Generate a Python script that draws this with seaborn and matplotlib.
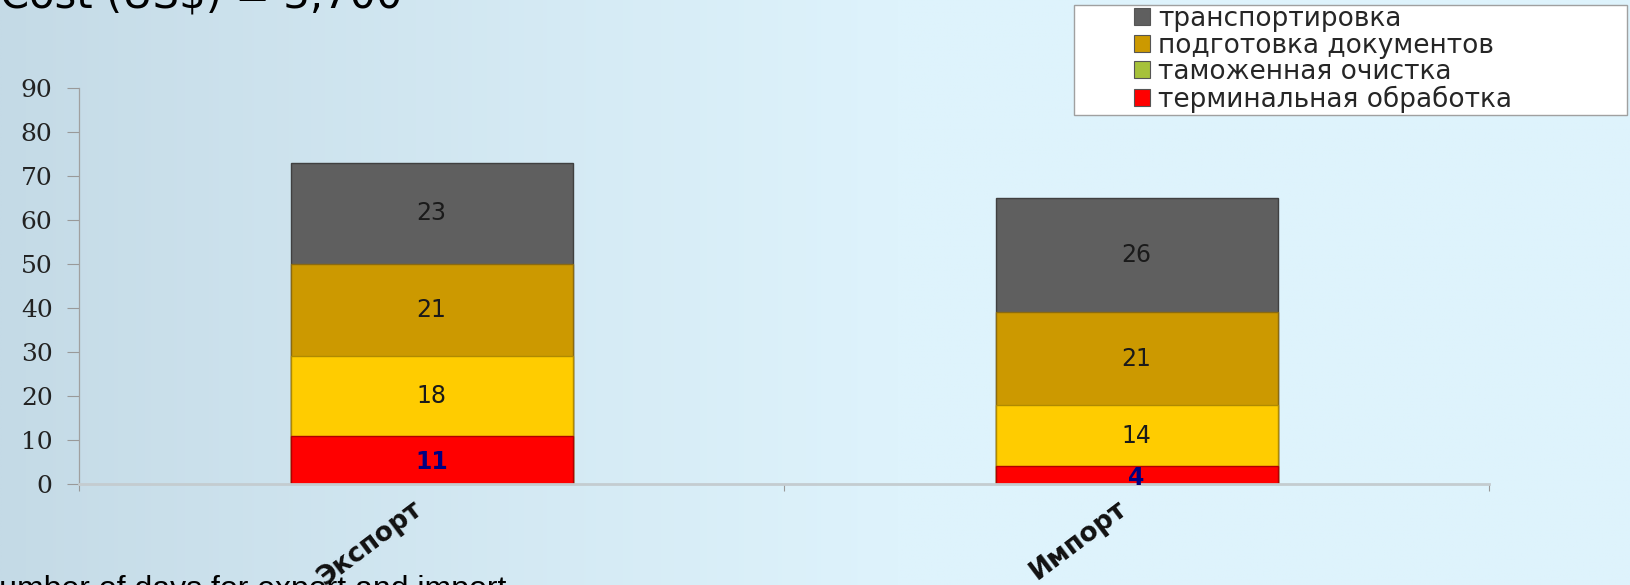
import numpy as np
import pandas as pd
import matplotlib
matplotlib.use("Agg")
import matplotlib.pyplot as plt
import matplotlib.transforms as mtrans
from matplotlib.patches import Patch, Rectangle
from matplotlib.colors import to_rgb
import seaborn as sns

# ---- data ----
categories = ["Экспорт", "Импорт"]
layer_names = ["терминальная обработка", "таможенная очистка",
               "подготовка документов", "транспортировка"]
terminal = [11, 4]
customs = [18, 14]
documents = [21, 21]
transport = [23, 26]
y_ticks = [0, 10, 20, 30, 40, 50, 60, 70, 80, 90]

layer_colors = ["#ff0000", "#ffcc00", "#cc9900", "#5f5f5f"]
layer_edges = ["#b00000", "#b08a00", "#8a6a10", "#404040"]
legend_colors = ["#ff0000", "#a6c13a", "#cc9900", "#5f5f5f"]

sns.set_theme(style="white")
plt.rcParams['font.family'] = ['DejaVu Sans']

W, H = 1630, 585
fig = plt.figure(figsize=(W / 100, H / 100), dpi=100)

# ---- background gradient ----
bg = fig.add_axes([0, 0, 1, 1], zorder=-10)
xs = np.linspace(0, 1, 500)
ys = np.linspace(0, 1, 200)
c_left = np.array(to_rgb("#c4dae6"))
c_right = np.array(to_rgb("#def3fc"))
t = np.clip(xs / 0.55, 0, 1) ** 0.9
row = c_left[None, :] * (1 - t[:, None]) + c_right[None, :] * t[:, None]
img = np.repeat(row[None, :, :], len(ys), axis=0)
bg.imshow(img, aspect="auto", extent=[0, 1, 0, 1], origin="lower")
bg.set_axis_off()

# ---- main axes ----
ax = fig.add_axes([79 / W, 1 - 484 / H, (1489 - 79) / W, (484 - 88) / H])
ax.patch.set_alpha(0)

layers = [terminal, customs, documents, transport]
df = pd.DataFrame({"cat": categories})
cum = np.zeros(len(categories))
cums = []
for vals in layers:
    cum = cum + np.array(vals)
    cums.append(cum.copy())

# draw cumulative totals top-first so lower layers overlap
for k in range(len(layers) - 1, -1, -1):
    df["v"] = cums[k]
    sns.barplot(data=df, x="cat", y="v", color=layer_colors[k], saturation=1,
                width=0.4, edgecolor=layer_edges[k], linewidth=1.0, ax=ax,
                errorbar=None)

# value labels
for i in range(len(categories)):
    bottom = 0
    for k, vals in enumerate(layers):
        v = vals[i]
        yc = bottom + v / 2
        if k == 0:
            ax.text(i, yc - 0.6, str(v), ha="center", va="center", fontsize=17,
                    fontweight="bold", color="#000080")
        else:
            ax.text(i, yc, str(v), ha="center", va="center", fontsize=17,
                    color="#1a1a1a")
        bottom += v

ax.set_xlim(-0.5, 1.5)
ax.set_ylim(0, 90)
ax.set_xlabel("")
ax.set_ylabel("")
ax.set_yticks(y_ticks)
ax.set_yticklabels([str(v) for v in y_ticks], fontfamily="DejaVu Serif",
                   fontsize=18, color="#222222")
ax.tick_params(axis="y", direction="out", length=9, width=0.8,
               color="#999999", pad=10, left=True)
ax.set_xticks([0, 1])
ax.set_xticklabels(categories, rotation=37, ha="right", va="center",
                   rotation_mode="anchor", fontsize=19, fontweight="bold",
                   color="#111111")
ax.tick_params(axis="x", which="major", length=0, pad=16)
ax.set_xticks([-0.5, 0.5, 1.5], minor=True)
ax.tick_params(axis="x", which="minor", direction="out", length=5,
               width=0.8, color="#999999", bottom=True)
offset = mtrans.ScaledTranslation(-12 / 100, 0, fig.dpi_scale_trans)
for lab in ax.get_xticklabels():
    lab.set_transform(lab.get_transform() + offset)

for s in ["top", "right"]:
    ax.spines[s].set_visible(False)
ax.spines["left"].set_color("#a0a0a0")
ax.spines["left"].set_linewidth(0.9)
ax.spines["bottom"].set_color("#c4ccd0")
ax.spines["bottom"].set_linewidth(2)
ax.grid(False)

# ---- legend ----
frame = Rectangle((1074 / W, 1 - 115 / H), (1627 - 1074) / W, 110 / H,
                  transform=fig.transFigure, facecolor="white",
                  edgecolor="#a0a0a0", linewidth=1.0, zorder=1)
fig.patches.append(frame)
handles = [Patch(facecolor=legend_colors[k], edgecolor="#555555", linewidth=0.8,
                 label=layer_names[k]) for k in range(len(layer_names) - 1, -1, -1)]
fig.legend(handles=handles, loc="upper left",
           bbox_to_anchor=(1134 / W, 1 - 6 / H), frameon=False, fontsize=19,
           handlelength=0.62, handleheight=0.62, handletextpad=0.3,
           labelspacing=0.02, borderpad=0, borderaxespad=0)

# ---- cropped slide texts ----
fig.text(0.0, 1 - 8 / H, "Cost (US$) = 3,700", fontsize=30, ha="left",
         va="baseline", color="black")
fig.text(-24 / W, -13 / H, "Number of days for export and import", fontsize=23,
         ha="left", va="baseline", color="black", fontfamily="Liberation Sans")

fig.savefig("out.png", dpi=100)
